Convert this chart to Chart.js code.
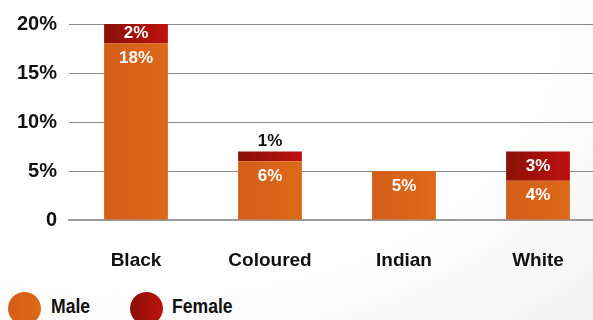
<!DOCTYPE html>
<html>
<head>
<meta charset="utf-8">
<script src="https://cdn.jsdelivr.net/npm/chart.js@4/dist/chart.umd.min.js"></script>
<style>
  html, body { margin: 0; padding: 0; }
  body {
    width: 593px; height: 320px; overflow: hidden; position: relative;
    background: radial-gradient(ellipse at 25% 10%, #ffffff 60%, #f2f2f2 100%);
    font-family: "Liberation Sans", Arial, sans-serif;
  }
  #wrap { position: absolute; left: 0; top: 0; width: 606px; height: 282px; }
  #legend { position: absolute; left: 0; top: 292px; height: 33px; }
  .item { position: absolute; top: 0; height: 33px; display: flex; align-items: center; }
  .dot { width: 33px; height: 33px; border-radius: 50%; flex: none; }
  .txt { font-size: 20px; font-weight: bold; color: #111; position: relative; top: -2px;
         display: inline-block; transform: scaleX(0.88); transform-origin: left center; }
</style>
</head>
<body>
<div id="wrap"><canvas id="c" width="606" height="282"></canvas></div>
<div id="legend"></div>
<script>
// Share of population by group and sex (%)
const categories = ["Black", "Coloured", "Indian", "White"];
const maleValues = [18, 6, 5, 4];
const femaleValues = [2, 1, 0, 3];
const yTicks = [0, 5, 10, 15, 20];
const seriesNames = ["Male", "Female"];

const palette = {
  Male: ["#d35e19", "#dc6a18"],
  Female: ["#8a1107", "#bd1010"]
};

const BAR_FRACTION = 0.476;

function barGradient(name) {
  return function (ctx) {
    const chart = ctx.chart;
    const x = chart.scales && chart.scales.x;
    if (!chart.chartArea || !x || ctx.dataIndex === undefined) return palette[name][0];
    const cx = x.getPixelForValue(ctx.dataIndex);
    const half = (x.width / categories.length) * BAR_FRACTION / 2;
    const g = chart.ctx.createLinearGradient(cx - half, 0, cx + half, 0);
    g.addColorStop(0, palette[name][0]);
    g.addColorStop(1, palette[name][1]);
    return g;
  };
}

// Value labels inside (or above) each segment
const valueLabels = {
  id: "valueLabels",
  afterDatasetsDraw(chart) {
    const ctx = chart.ctx;
    ctx.save();
    ctx.font = "bold 17px 'Liberation Sans', Arial, sans-serif";
    ctx.textAlign = "center";
    ctx.textBaseline = "middle";
    chart.data.datasets.forEach((ds, di) => {
      const meta = chart.getDatasetMeta(di);
      meta.data.forEach((bar, i) => {
        const v = ds.data[i];
        if (!v) return;
        const top = Math.min(bar.y, bar.base);
        const h = Math.abs(bar.base - bar.y);
        const text = v + "%";
        if (di === 0) {
          ctx.fillStyle = "#ffffff";
          ctx.fillText(text, bar.x, top + 15);
        } else if (h >= 15) {
          ctx.fillStyle = "#ffffff";
          ctx.fillText(text, bar.x, top + h / 2);
        } else {
          ctx.fillStyle = "#111111";
          ctx.fillText(text, bar.x, top - 10);
        }
      });
    });
    ctx.restore();
  }
};

new Chart(document.getElementById("c"), {
  type: "bar",
  data: {
    labels: categories,
    datasets: [
      { label: seriesNames[0], data: maleValues, backgroundColor: barGradient("Male"), borderWidth: 0 },
      { label: seriesNames[1], data: femaleValues, backgroundColor: barGradient("Female"), borderWidth: 0 }
    ]
  },
  options: {
    responsive: false,
    animation: false,
    layout: { padding: { top: 23, right: 1, left: 2, bottom: 0 } },
    datasets: { bar: { barPercentage: BAR_FRACTION, categoryPercentage: 1 } },
    plugins: { legend: { display: false }, tooltip: { enabled: false } },
    scales: {
      x: {
        stacked: true,
        grid: { display: false },
        border: { display: true, color: "#9a9a9a", width: 2 },
        ticks: {
          color: "#111",
          padding: 21,
          font: { family: "'Liberation Sans', Arial, sans-serif", size: 19, weight: "bold" }
        },
        afterFit(scale) { scale.height = 62; }
      },
      y: {
        stacked: true,
        min: yTicks[0],
        max: yTicks[yTicks.length - 1],
        afterBuildTicks(scale) { scale.ticks = yTicks.map(v => ({ value: v })); },
        grid: { color: "#8a8a8a", lineWidth: 1, drawTicks: false },
        border: { display: false },
        ticks: {
          color: "#111",
          padding: 12,
          font: { family: "'Liberation Sans', Arial, sans-serif", size: 20, weight: "bold" },
          callback: v => (v === 0 ? "0" : v + "%")
        },
        afterFit(scale) { scale.width = 67; }
      }
    }
  },
  plugins: [valueLabels]
});

// Legend
const legend = document.getElementById("legend");
const legendX = [8, 130];
const legendGap = [10, 9];
seriesNames.forEach((name, i) => {
  const item = document.createElement("div");
  item.className = "item";
  item.style.left = legendX[i] + "px";
  const dot = document.createElement("div");
  dot.className = "dot";
  dot.style.background = "linear-gradient(to right, " + palette[name][0] + ", " + palette[name][1] + ")";
  const txt = document.createElement("span");
  txt.className = "txt";
  txt.style.marginLeft = legendGap[i] + "px";
  txt.textContent = name;
  item.appendChild(dot);
  item.appendChild(txt);
  legend.appendChild(item);
});
</script>
</body>
</html>
